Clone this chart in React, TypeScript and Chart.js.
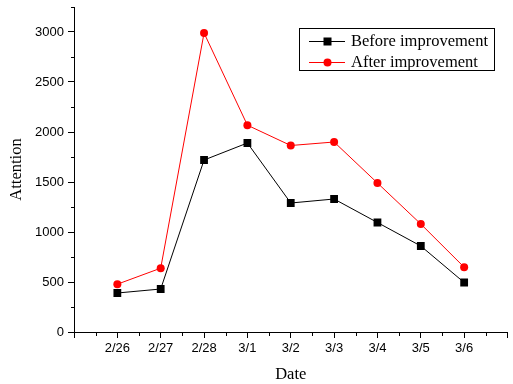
import React, { useEffect, useRef } from "react";
import { Chart, registerables } from "chart.js";

Chart.register(...registerables);

const dates = ["2/26", "2/27", "2/28", "3/1", "3/2", "3/3", "3/4", "3/5", "3/6"];
const beforeValues = [390, 430, 1720, 1890, 1290, 1330, 1095, 860, 495];
const afterValues = [478, 638, 2990, 2068, 1865, 1900, 1490, 1080, 648];
const yTicks = [0, 500, 1000, 1500, 2000, 2500, 3000];
const yMinorTicks = [250, 750, 1250, 1750, 2250, 2750, 3250];

const SERIF = "'Liberation Serif', 'Times New Roman', serif";
const SANS = "'Liberation Sans', Arial, sans-serif";

export default function App() {
  const ref = useRef<HTMLCanvasElement>(null);
  useEffect(() => {
    document.body.style.margin = "0";
    const canvas = ref.current!;
    const overlay = {
      id: "overlay",
      afterDraw(chart: any) {
        const ctx = chart.ctx;
        const xs = chart.scales.x;
        const ys = chart.scales.y;
        const area = chart.chartArea;
        ctx.save();
        ctx.strokeStyle = "#000";
        ctx.lineWidth = 1;
        ctx.beginPath();
        for (let i = -0.5; i < 9; i += 1) {
          const px = Math.round(xs.getPixelForValue(i)) + 0.5;
          ctx.moveTo(px, area.bottom);
          ctx.lineTo(px, area.bottom + 4);
        }
        for (const v of yMinorTicks) {
          const py = Math.round(ys.getPixelForValue(v)) + 0.5;
          ctx.moveTo(area.left, py);
          ctx.lineTo(area.left - 3, py);
        }
        ctx.stroke();
        ctx.fillStyle = "#000";
        ctx.font = `16.5px ${SERIF}`;
        ctx.textAlign = "center";
        ctx.textBaseline = "middle";
        ctx.fillText("Date", (area.left + area.right) / 2, 375);
        ctx.save();
        ctx.translate(17, (area.top + area.bottom) / 2);
        ctx.rotate(-Math.PI / 2);
        ctx.fillText("Attention", 0, 0);
        ctx.restore();
        const lx = 299, ly = 28, lw = 195, lh = 42;
        ctx.strokeRect(lx + 0.5, ly + 0.5, lw, lh);
        const rows = [
          { label: "Before improvement", color: "#000", style: "rect", y: 41 },
          { label: "After improvement", color: "#ff0000", style: "circle", y: 62 },
        ];
        for (const r of rows) {
          ctx.strokeStyle = r.color;
          ctx.beginPath();
          ctx.moveTo(309, r.y + 0.5);
          ctx.lineTo(345, r.y + 0.5);
          ctx.stroke();
          ctx.fillStyle = r.color;
          if (r.style === "rect") {
            ctx.fillRect(323.5, r.y - 3.5, 8, 8);
          } else {
            ctx.beginPath();
            ctx.arc(327.5, r.y + 0.5, 4, 0, Math.PI * 2);
            ctx.fill();
          }
          ctx.fillStyle = "#000";
          ctx.textAlign = "left";
          ctx.textBaseline = "middle";
          ctx.font = `16.5px ${SERIF}`;
          ctx.fillText(r.label, 351, r.y + 1);
        }
        ctx.restore();
      },
    };
    const chart = new Chart(canvas, {
      type: "line",
      data: {
        datasets: [
          {
            label: "Before improvement",
            data: beforeValues.map((v, i) => ({ x: i, y: v })),
            borderColor: "#000",
            backgroundColor: "#000",
            borderWidth: 1,
            pointStyle: "rect",
            pointRadius: 5.5,
            pointBorderWidth: 0,
            tension: 0,
          },
          {
            label: "After improvement",
            data: afterValues.map((v, i) => ({ x: i, y: v })),
            borderColor: "#ff0000",
            backgroundColor: "#ff0000",
            borderWidth: 1,
            pointStyle: "circle",
            pointRadius: 4,
            pointBorderWidth: 0,
            tension: 0,
          },
        ],
      },
      options: {
        responsive: false,
        animation: false,
        layout: { padding: { top: 7, right: 2, left: 0, bottom: 0 } },
        plugins: { legend: { display: false }, tooltip: { enabled: false } },
        scales: {
          x: {
            type: "linear",
            min: -1,
            max: 9,
            afterBuildTicks: (s: any) => {
              s.ticks = [];
              for (let i = -1; i <= 9; i++) s.ticks.push({ value: i });
            },
            afterFit: (s: any) => {
              s.height = 52;
              s.paddingLeft = 0;
              s.paddingRight = 0;
            },
            ticks: {
              autoSkip: false,
              maxRotation: 0,
              padding: 3,
              color: "#000",
              font: { family: SANS, size: 13 },
              callback: (v: any) => (dates[v as number] !== undefined ? dates[v as number] : ""),
            },
            grid: { drawOnChartArea: false, tickLength: 6, color: "#000", lineWidth: 1 },
            border: { display: true, color: "#000", width: 1 },
          },
          y: {
            type: "linear",
            min: 0,
            max: 3250,
            afterBuildTicks: (s: any) => {
              s.ticks = yTicks.map((v) => ({ value: v }));
            },
            afterFit: (s: any) => {
              s.width = 74;
              s.paddingTop = 0;
              s.paddingBottom = 0;
            },
            ticks: {
              padding: 4,
              color: "#000",
              font: { family: SANS, size: 13 },
              callback: (v: any) => String(v),
            },
            grid: { drawOnChartArea: false, tickLength: 6, color: "#000", lineWidth: 1 },
            border: { display: true, color: "#000", width: 1 },
          },
        },
      },
      plugins: [overlay],
    } as any);
    return () => chart.destroy();
  }, []);
  return <canvas ref={ref} width={513} height={384} style={{ display: "block" }} />;
}
